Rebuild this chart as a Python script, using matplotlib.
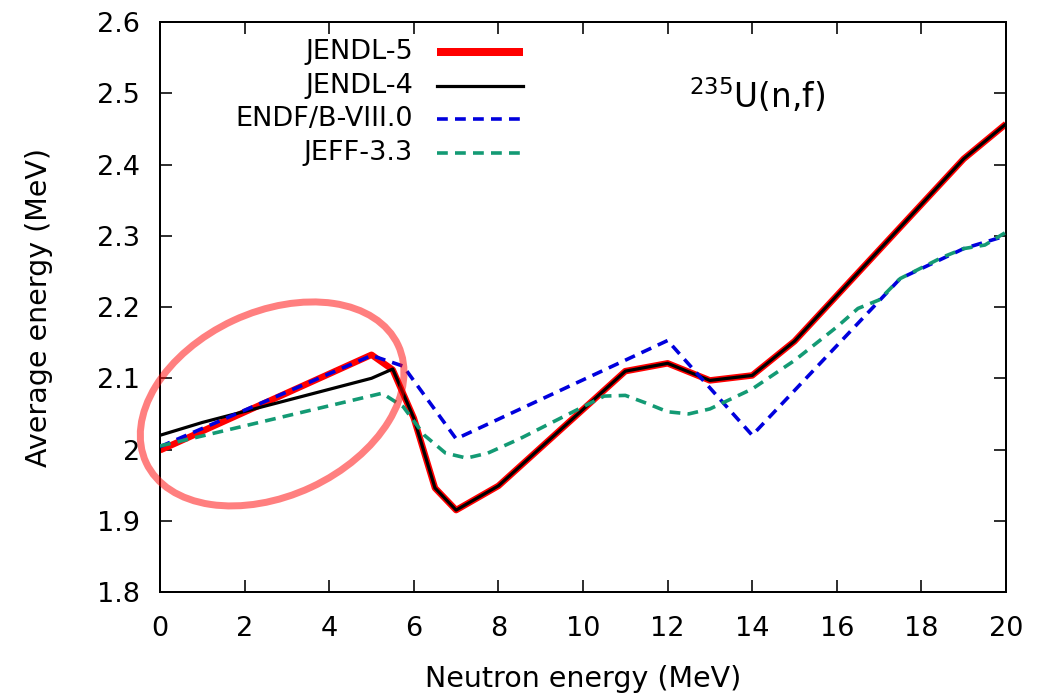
import matplotlib
matplotlib.use("Agg")
import matplotlib.pyplot as plt
import matplotlib.transforms as mtransforms
from matplotlib.patches import Ellipse

plt.rcParams['font.family'] = ['DejaVu Sans']
plt.rcParams['mathtext.default'] = 'regular'

# ---- data ----
jendl5_x = [0, 5, 5.5, 6, 6.5, 7, 8, 11, 12, 13, 14, 15, 19, 20]
jendl5_y = [1.999, 2.133, 2.112, 2.044, 1.946, 1.915, 1.949, 2.110, 2.121, 2.097, 2.104, 2.152, 2.408, 2.457]

jendl4_x = [0, 1, 5, 5.5, 6, 6.5, 7, 8, 11, 12, 13, 14, 15, 19, 20]
jendl4_y = [2.020, 2.038, 2.100, 2.113, 2.044, 1.946, 1.915, 1.949, 2.110, 2.121, 2.097, 2.104, 2.152, 2.408, 2.457]

endf_x = [0, 5, 5.75, 7, 12, 14, 17.5, 19, 20]
endf_y = [2.004, 2.132, 2.117, 2.015, 2.153, 2.020, 2.240, 2.282, 2.300]

jeff_x = [0, 5.25, 5.75, 6.25, 6.75, 7.25, 7.75, 8.5, 9.5, 10.5, 11, 11.5, 12, 12.5, 13,
          14, 15, 16, 16.5, 17, 17.5, 18, 18.5, 19, 19.5, 20]
jeff_y = [2.005, 2.079, 2.060, 2.020, 1.995, 1.988, 1.995, 2.015, 2.045, 2.075, 2.076, 2.065,
          2.053, 2.050, 2.057, 2.085, 2.125, 2.172, 2.198, 2.210, 2.240, 2.255, 2.270, 2.282,
          2.287, 2.305]

labels = ["JENDL-5", "JENDL-4", "ENDF/B-VIII.0", "JEFF-3.3"]
xticks = [0, 2, 4, 6, 8, 10, 12, 14, 16, 18, 20]
yticks = [1.8, 1.9, 2.0, 2.1, 2.2, 2.3, 2.4, 2.5, 2.6]
ytick_labels = ["1.8", "1.9", "2", "2.1", "2.2", "2.3", "2.4", "2.5", "2.6"]

# ---- figure ----
fig = plt.figure(figsize=(10.44, 6.93), dpi=100)
ax = fig.add_axes([0.1533, 0.1457, 0.8103, 0.8225])

px = 72.0 / 100.0  # points per pixel
FS = 19.5
LFS = 20.5

red_kw = dict(color='#ff0000', lw=6.5 * px, solid_capstyle='butt')
blk_kw = dict(color='black', lw=3.2 * px)
blu_kw = dict(color='#0000dd', lw=3.6 * px, dashes=(3.0, 2.0))
grn_kw = dict(color='#139a74', lw=3.6 * px, dashes=(3.0, 2.0))

ax.plot(jendl5_x, jendl5_y, zorder=2, **red_kw)
ax.plot(jendl4_x, jendl4_y, zorder=3, **blk_kw)
ax.plot(endf_x, endf_y, zorder=4, **blu_kw)
ax.plot(jeff_x, jeff_y, zorder=5, **grn_kw)

ax.set_xlim(0, 20)
ax.set_ylim(1.8, 2.6)
ax.set_xticks(xticks)
ax.set_xticklabels([str(t) for t in xticks])
ax.set_yticks(yticks)
ax.set_yticklabels(ytick_labels)

for s in ax.spines.values():
    s.set_linewidth(2.0 * px)
ax.tick_params(direction='in', length=12 * px, width=1.6 * px, top=True, right=True,
               labelsize=FS)
ax.tick_params(axis='x', pad=24 * px)
ax.tick_params(axis='y', pad=20 * px)

ax.set_xlabel("Neutron energy (MeV)", fontsize=LFS)
ax.set_ylabel("Average energy (MeV)", fontsize=LFS)
ax.xaxis.set_label_coords(0.5, -0.128)
ax.yaxis.set_label_coords(-0.1265, 0.5)

# reaction label
ax.text(0.625, 0.849, r'$^{235}$U(n,f)', transform=ax.transAxes, fontsize=23.5,
        ha='left', va='baseline')

# legend (manual, text right-aligned, sample to the right)
leg_y = [0.947, 0.888, 0.830, 0.770]
leg_styles = [red_kw, blk_kw, blu_kw, grn_kw]
for lab, yy, kw in zip(labels, leg_y, leg_styles):
    ax.text(0.299, yy, lab, transform=ax.transAxes, fontsize=FS, ha='right', va='center')
    kw2 = dict(kw)
    if kw is red_kw:
        kw2['lw'] = 8 * px
    ax.plot([0.327, 0.429], [yy, yy], transform=ax.transAxes, clip_on=False, **kw2)

# highlight ellipse around the low-energy region (drawn in pixel units)
scale = fig.dpi / 100.0
trans = mtransforms.Affine2D().scale(scale) + \
    mtransforms.ScaledTranslation(2.65, 2.064, ax.transData)
ell = Ellipse((0, 0), width=278, height=184, angle=25, fill=False,
              edgecolor=(1, 0, 0, 0.5), lw=7 * px, transform=trans, zorder=6,
              clip_on=False)
ax.add_patch(ell)

fig.savefig("out.png", dpi=100)
